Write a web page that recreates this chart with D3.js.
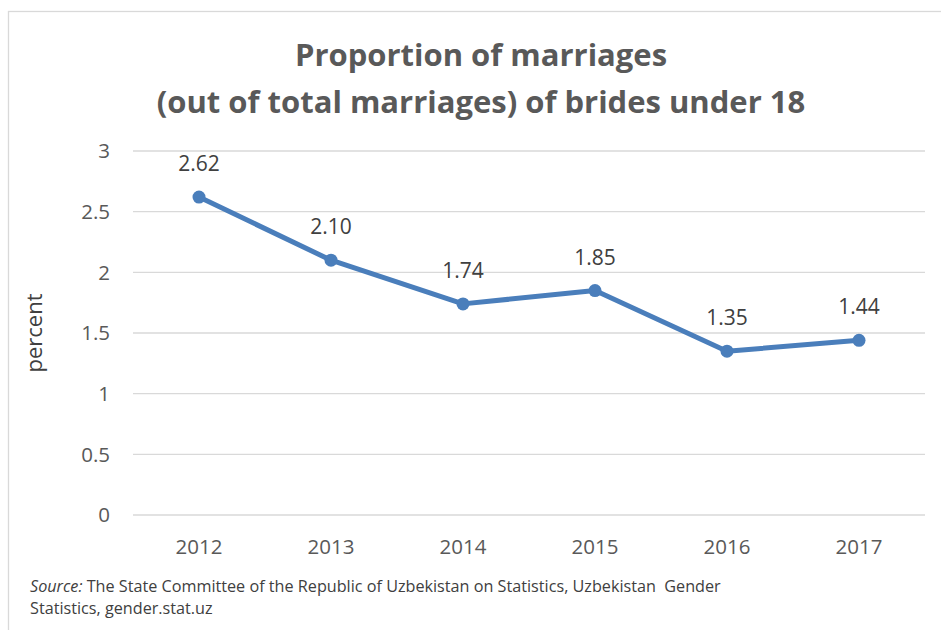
<!DOCTYPE html>
<html>
<head>
<meta charset="utf-8">
<script src="https://cdn.jsdelivr.net/npm/d3@7"></script>
<style>
  body { margin: 0; background: #fff; }
  svg { font-family: "Open Sans", "Noto Sans", sans-serif; }
</style>
</head>
<body>
<svg width="941" height="630"></svg>
<script>
var years = ["2012", "2013", "2014", "2015", "2016", "2017"];
var values = [2.62, 2.10, 1.74, 1.85, 1.35, 1.44];
var yTicks = [0, 0.5, 1, 1.5, 2, 2.5, 3];

var svg = d3.select("svg");

// chart frame
svg.append("rect")
    .attr("x", 8.5).attr("y", 11.5)
    .attr("width", 960).attr("height", 700)
    .attr("fill", "none")
    .attr("stroke", "#d9d9d9")
    .attr("stroke-width", 1.3);

var x = d3.scaleBand().domain(years).range([133, 925]);
var y = d3.scaleLinear().domain([0, 3]).range([515, 151]);

// gridlines
svg.selectAll(".grid")
    .data(yTicks)
    .enter().append("line")
    .attr("class", "grid")
    .attr("x1", 133).attr("x2", 925)
    .attr("y1", function(d) { return y(d); })
    .attr("y2", function(d) { return y(d); })
    .attr("stroke", "#d9d9d9")
    .attr("stroke-width", 1.3);

// y tick labels
svg.selectAll(".ylab")
    .data(yTicks)
    .enter().append("text")
    .attr("class", "ylab")
    .attr("x", 110)
    .attr("y", function(d) { return y(d); })
    .attr("dy", "0.35em")
    .attr("text-anchor", "end")
    .attr("font-size", 20.5)
    .attr("fill", "#595959")
    .text(function(d) { return d; });

// x tick labels
svg.selectAll(".xlab")
    .data(years)
    .enter().append("text")
    .attr("class", "xlab")
    .attr("x", function(d) { return x(d) + x.bandwidth() / 2; })
    .attr("y", 554)
    .attr("text-anchor", "middle")
    .attr("font-size", 20.5)
    .attr("fill", "#595959")
    .text(function(d) { return d; });

// axis title
svg.append("text")
    .attr("transform", "translate(42,333) rotate(-90)")
    .attr("text-anchor", "middle")
    .attr("font-size", 22)
    .attr("fill", "#404040")
    .text("percent");

// title
svg.append("text")
    .attr("x", 481).attr("y", 66)
    .attr("text-anchor", "middle")
    .attr("font-size", 31)
    .attr("font-weight", "bold")
    .attr("fill", "#595959")
    .text("Proportion of marriages");
svg.append("text")
    .attr("x", 481).attr("y", 113)
    .attr("text-anchor", "middle")
    .attr("font-size", 31)
    .attr("font-weight", "bold")
    .attr("fill", "#595959")
    .text("(out of total marriages) of brides under 18");

var pts = years.map(function(d, i) { return {year: d, value: values[i]}; });

var line = d3.line()
    .x(function(d) { return x(d.year) + x.bandwidth() / 2; })
    .y(function(d) { return y(d.value); });

svg.append("path")
    .datum(pts)
    .attr("d", line)
    .attr("fill", "none")
    .attr("stroke", "#4a7ebb")
    .attr("stroke-width", 5)
    .attr("stroke-linejoin", "round");

svg.selectAll(".dot")
    .data(pts)
    .enter().append("circle")
    .attr("class", "dot")
    .attr("cx", function(d) { return x(d.year) + x.bandwidth() / 2; })
    .attr("cy", function(d) { return y(d.value); })
    .attr("r", 6.5)
    .attr("fill", "#4a7ebb");

svg.selectAll(".vlab")
    .data(pts)
    .enter().append("text")
    .attr("class", "vlab")
    .attr("x", function(d) { return x(d.year) + x.bandwidth() / 2; })
    .attr("y", function(d) { return y(d.value) - 26; })
    .attr("text-anchor", "middle")
    .attr("font-size", 21)
    .attr("fill", "#404040")
    .text(function(d) { return d.value.toFixed(2); });

// source note
var src = svg.append("text")
    .attr("x", 30).attr("y", 592)
    .attr("font-size", 16.2)
    .attr("fill", "#404040");
src.append("tspan").attr("font-style", "italic").text("Source:");
src.append("tspan").text(" The State Committee of the Republic of Uzbekistan on Statistics, Uzbekistan\u00a0 Gender");
svg.append("text")
    .attr("x", 30).attr("y", 614)
    .attr("font-size", 16.2)
    .attr("fill", "#404040")
    .text("Statistics, gender.stat.uz");
</script>
</body>
</html>
